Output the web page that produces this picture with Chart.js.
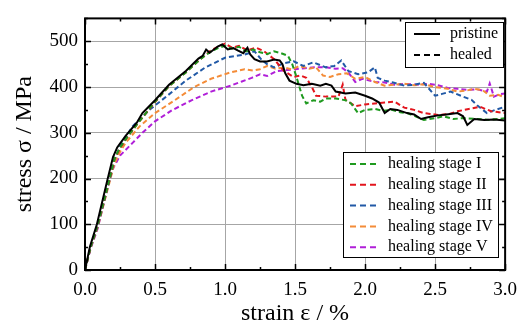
<!DOCTYPE html>
<html>
<head>
<meta charset="utf-8">
<script src="https://cdn.jsdelivr.net/npm/chart.js@4/dist/chart.umd.min.js"></script>
<style>
  html, body { margin: 0; padding: 0; background: #fff; }
  #wrap { width: 526px; height: 326px; }
</style>
</head>
<body>
<div id="wrap"><canvas id="graph" width="526" height="326"></canvas></div>
<script>
const ctx = document.getElementById('graph');

// strain in %, stress in MPa
const strainPristine = [
    0, 0.035, 0.085, 0.16, 0.2, 0.23, 0.29, 0.37, 0.41, 0.5,
    0.6, 0.72, 0.81, 0.84, 0.865, 0.89, 0.95, 0.98, 1.02, 1.06,
    1.09, 1.13, 1.16, 1.18, 1.21, 1.25, 1.3, 1.35, 1.39, 1.41,
    1.43, 1.46, 1.51, 1.56, 1.62, 1.68, 1.72, 1.76, 1.79, 1.86,
    1.93, 2.0, 2.05, 2.1, 2.14, 2.18, 2.23, 2.3, 2.35, 2.4,
    2.45, 2.52, 2.58, 2.66, 2.7, 2.73, 2.78, 2.85, 2.92, 3.0
];
const stressPristine = [
    0, 51, 100, 197, 247, 268, 293, 322, 343, 371,
    405, 435, 462, 468, 482, 475, 489, 493, 482, 485,
    480, 474, 486, 471, 461, 456, 456, 460, 458, 450,
    430, 414, 407, 404, 407, 403, 407, 403, 390, 386,
    388, 381, 375, 366, 343, 352, 350, 343, 340, 330,
    334, 338, 340, 343, 336, 317, 330, 328, 329, 327
];

const strainStage1 = [
    0, 0.04, 0.09, 0.17, 0.21, 0.25, 0.3, 0.37, 0.5, 0.6,
    0.72, 0.82, 0.9, 0.95, 1.0, 1.05, 1.1, 1.15, 1.2, 1.25,
    1.3, 1.35, 1.4, 1.45, 1.48, 1.51, 1.55, 1.58, 1.63, 1.68,
    1.72, 1.79, 1.86, 1.9, 1.95, 2.0, 2.07, 2.13, 2.19, 2.25,
    2.3, 2.36, 2.42, 2.5, 2.56, 2.63, 2.7, 2.8, 2.89, 3.0
];
const stressStage1 = [
    0, 50, 98, 193, 243, 268, 290, 318, 368, 402,
    432, 460, 478, 485, 490, 484, 488, 478, 482, 476,
    472, 478, 474, 468, 450, 422, 381, 364, 371, 368,
    375, 375, 371, 364, 343, 350, 352, 348, 350, 345,
    343, 336, 328, 332, 336, 330, 332, 330, 328, 332
];

const strainStage2 = [
    0, 0.04, 0.09, 0.17, 0.21, 0.25, 0.3, 0.37, 0.5, 0.6,
    0.72, 0.82, 0.9, 0.96, 1.0, 1.05, 1.1, 1.16, 1.22, 1.28,
    1.35, 1.42, 1.49, 1.54, 1.58, 1.62, 1.65, 1.72, 1.81, 1.84,
    1.86, 1.93, 2.0, 2.07, 2.14, 2.21, 2.28, 2.35, 2.42, 2.52,
    2.6, 2.66, 2.74, 2.82, 2.9, 3.0
];
const stressStage2 = [
    0, 50, 97, 192, 242, 266, 289, 318, 367, 402,
    432, 460, 480, 490, 495, 486, 490, 480, 486, 478,
    461, 435, 422, 425, 420, 400, 381, 379, 379, 405,
    372, 358, 362, 364, 366, 368, 355, 350, 343, 339,
    341, 347, 352, 357, 347, 343
];

const strainStage3 = [
    0, 0.04, 0.09, 0.17, 0.21, 0.25, 0.34, 0.46, 0.58, 0.72,
    0.86, 1.0, 1.14, 1.21, 1.26, 1.3, 1.35, 1.42, 1.49, 1.56,
    1.63, 1.72, 1.78, 1.83, 1.88, 1.95, 2.02, 2.07, 2.09, 2.14,
    2.2, 2.28, 2.35, 2.42, 2.5, 2.55, 2.61, 2.7, 2.76, 2.8,
    2.87, 2.93, 3.0
];
const stressStage3 = [
    0, 49, 95, 190, 240, 270, 314, 350, 379, 414,
    443, 464, 471, 478, 460, 450, 443, 452, 456, 446,
    454, 443, 446, 458, 435, 428, 432, 443, 420, 414,
    410, 403, 405, 409, 381, 385, 390, 379, 372, 360,
    343, 350, 357
];

const strainStage4 = [
    0, 0.04, 0.09, 0.17, 0.21, 0.25, 0.29, 0.39, 0.5, 0.64,
    0.78, 0.9, 1.04, 1.14, 1.2, 1.25, 1.3, 1.36, 1.42, 1.48,
    1.53, 1.6, 1.65, 1.7, 1.75, 1.81, 1.87, 1.93, 2.0, 2.07,
    2.14, 2.21, 2.28, 2.35, 2.42, 2.5, 2.59, 2.66, 2.72, 2.78,
    2.84, 2.89, 2.95, 3.0
];
const stressStage4 = [
    0, 48, 93, 186, 232, 258, 278, 314, 343, 371,
    400, 418, 432, 439, 436, 439, 446, 440, 443, 438,
    446, 440, 443, 425, 422, 428, 430, 418, 422, 411,
    403, 405, 407, 404, 406, 400, 396, 390, 392, 396,
    393, 381, 383, 377
];

const strainStage5 = [
    0, 0.04, 0.09, 0.16, 0.2, 0.25, 0.34, 0.41, 0.5, 0.62,
    0.76, 0.9, 1.04, 1.12, 1.19, 1.25, 1.3, 1.37, 1.44, 1.5,
    1.57, 1.64, 1.72, 1.79, 1.84, 1.88, 1.93, 1.98, 2.07, 2.14,
    2.21, 2.28, 2.37, 2.45, 2.52, 2.59, 2.66, 2.73, 2.8, 2.87,
    2.89, 2.92, 2.96, 3.0
];
const stressStage5 = [
    0, 47, 90, 180, 222, 250, 278, 300, 325, 349,
    371, 390, 403, 412, 420, 428, 424, 435, 437, 439,
    441, 443, 443, 440, 441, 432, 411, 418, 411, 410,
    405, 407, 405, 407, 404, 398, 396, 394, 395, 390,
    408, 379, 384, 386
];

const stageLabels = ['healing stage I', 'healing stage II', 'healing stage III', 'healing stage IV', 'healing stage V'];
const stageColors = ['#1f9a1f', '#e3151d', '#2159a6', '#f48c38', '#b01fd8'];
const stageStrain = [strainStage1, strainStage2, strainStage3, strainStage4, strainStage5];
const stageStress = [stressStage1, stressStage2, stressStage3, stressStage4, stressStage5];

const FONT = '"Liberation Serif", "DejaVu Serif", serif';

function toPoints(xs, ys) {
    return xs.map((x, i) => ({ x: x, y: ys[i] }));
}

const datasets = [{
    label: 'pristine',
    data: toPoints(strainPristine, stressPristine),
    borderColor: '#000',
    borderWidth: 2,
    showLine: true,
    pointRadius: 0
}];
stageLabels.forEach((lab, i) => {
    datasets.push({
        label: lab,
        data: toPoints(stageStrain[i], stageStress[i]),
        borderColor: stageColors[i],
        borderWidth: 2,
        borderDash: [5, 3],
        showLine: true,
        pointRadius: 0
    });
});

function isMultiple(v, step) {
    return Math.abs(v / step - Math.round(v / step)) < 1e-6;
}

// frame, inward ticks on all sides and the two legend boxes
const framePlugin = {
    id: 'frame',
    beforeDraw(chart) {
        const c = chart.ctx;
        c.save();
        c.fillStyle = '#fff';
        c.fillRect(0, 0, chart.width, chart.height);
        c.restore();
    },
    afterDraw(chart) {
        const c = chart.ctx;
        const a = chart.chartArea;
        const xs = chart.scales.x, ys = chart.scales.y;
        c.save();
        c.strokeStyle = '#000';
        c.lineWidth = 1.5;
        for (let v = 0; v <= 3.0001; v += 0.25) {
            const px = Math.round(xs.getPixelForValue(v)) + 0.5;
            const len = isMultiple(v, 0.5) ? 6 : 3;
            c.beginPath();
            c.moveTo(px, a.bottom); c.lineTo(px, a.bottom - len);
            c.moveTo(px, a.top); c.lineTo(px, a.top + len);
            c.stroke();
        }
        for (let v = 0; v <= 550; v += 50) {
            const py = Math.round(ys.getPixelForValue(v)) + 0.5;
            const len = isMultiple(v, 100) ? 6 : 3;
            c.beginPath();
            c.moveTo(a.left, py); c.lineTo(a.left + len, py);
            c.moveTo(a.right, py); c.lineTo(a.right - len, py);
            c.stroke();
        }
        c.lineWidth = 2;
        c.strokeRect(a.left, a.top, a.right - a.left, a.bottom - a.top);

        // legend: pristine / healed
        c.font = '16px ' + FONT;
        c.textBaseline = 'middle';
        c.fillStyle = '#fff';
        c.fillRect(405, 22, 98, 45);
        c.lineWidth = 1;
        c.strokeStyle = '#000';
        c.strokeRect(405.5, 22.5, 98, 45);
        c.lineWidth = 2;
        c.beginPath(); c.moveTo(414, 34); c.lineTo(440, 34); c.stroke();
        c.setLineDash([6, 4]);
        c.beginPath(); c.moveTo(414, 55); c.lineTo(442, 55); c.stroke();
        c.setLineDash([]);
        c.fillStyle = '#000';
        c.fillText('pristine', 450, 34);
        c.fillText('healed', 450, 55);

        // legend: healing stages
        c.fillStyle = '#fff';
        c.fillRect(343, 152, 155, 105);
        c.lineWidth = 1;
        c.strokeStyle = '#000';
        c.strokeRect(343.5, 152.5, 155, 105);
        stageLabels.forEach((lab, i) => {
            const y = 164 + i * 20.8;
            c.strokeStyle = stageColors[i];
            c.lineWidth = 2;
            c.setLineDash([6, 4]);
            c.beginPath(); c.moveTo(350, y); c.lineTo(378, y); c.stroke();
            c.setLineDash([]);
            c.fillStyle = '#000';
            c.fillText(lab, 388, y);
        });
        c.restore();
    }
};

const config = {
    type: 'scatter',
    data: { datasets: datasets },
    options: {
        responsive: false,
        animation: false,
        devicePixelRatio: 1,
        layout: { padding: { top: 13, right: 14, left: 0, bottom: 0 } },
        plugins: { legend: { display: false }, tooltip: { enabled: false } },
        elements: { line: { tension: 0 } },
        scales: {
            x: {
                type: 'linear',
                min: 0,
                max: 3,
                afterFit: (s) => { s.height = 56; },
                border: { display: false },
                grid: {
                    drawTicks: false,
                    lineWidth: 1,
                    color: (c) => (c.tick && isMultiple(c.tick.value, 0.5) ? '#a6a6a6' : 'rgba(0,0,0,0)')
                },
                ticks: {
                    stepSize: 0.25,
                    autoSkip: false,
                    maxRotation: 0,
                    padding: 9,
                    color: '#000',
                    font: { family: FONT, size: 19 },
                    callback: (v) => (isMultiple(v, 0.5) ? v.toFixed(1) : '')
                },
                title: {
                    display: true,
                    text: 'strain ε / %',
                    color: '#000',
                    font: { family: FONT, size: 24, lineHeight: 1 },
                    padding: { top: 0, bottom: 0 }
                }
            },
            y: {
                type: 'linear',
                min: 0,
                max: 550,
                afterFit: (s) => { s.width = 85; },
                border: { display: false },
                grid: {
                    drawTicks: false,
                    lineWidth: 1,
                    color: (c) => (c.tick && isMultiple(c.tick.value, 100) ? '#a6a6a6' : 'rgba(0,0,0,0)')
                },
                ticks: {
                    stepSize: 50,
                    autoSkip: false,
                    padding: 7,
                    color: '#000',
                    font: { family: FONT, size: 19 },
                    callback: (v) => (isMultiple(v, 100) && v <= 500 ? String(v) : '')
                },
                title: {
                    display: true,
                    text: 'stress σ / MPa',
                    color: '#000',
                    font: { family: FONT, size: 24, lineHeight: 1 },
                    padding: { top: 13, bottom: 0 }
                }
            }
        }
    },
    plugins: [framePlugin]
};

const chart = new Chart(ctx, config);
</script>
</body>
</html>
